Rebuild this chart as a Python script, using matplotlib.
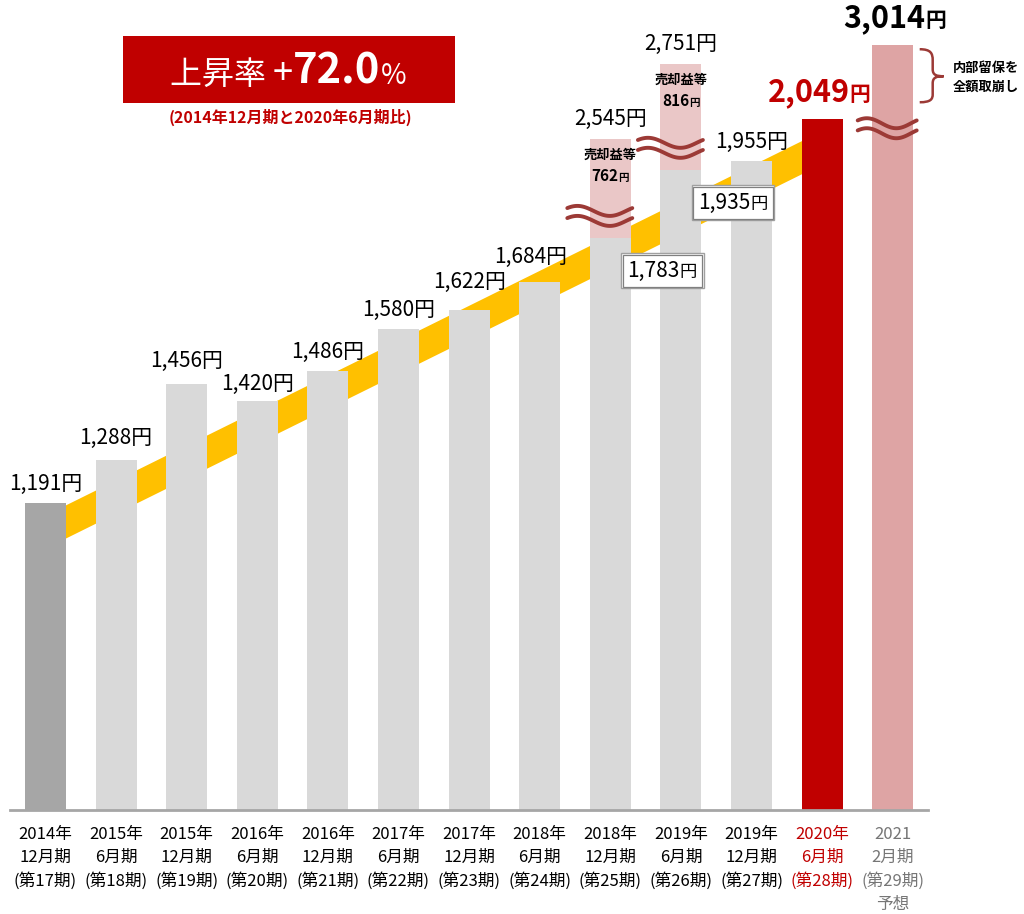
import numpy as np
import matplotlib
matplotlib.use("Agg")
import matplotlib.pyplot as plt
from matplotlib.offsetbox import TextArea, HPacker, AnnotationBbox, PaddedBox
from matplotlib.patches import Rectangle, PathPatch
from matplotlib.path import Path

plt.rcParams['font.family'] = ['Noto Sans CJK JP', 'DejaVu Sans']

# ---------------- data ----------------
periods = ["2014年\n12月期\n(第17期)", "2015年\n6月期\n(第18期)", "2015年\n12月期\n(第19期)",
           "2016年\n6月期\n(第20期)", "2016年\n12月期\n(第21期)", "2017年\n6月期\n(第22期)",
           "2017年\n12月期\n(第23期)", "2018年\n6月期\n(第24期)", "2018年\n12月期\n(第25期)",
           "2019年\n6月期\n(第26期)", "2019年\n12月期\n(第27期)", "2020年\n6月期\n(第28期)",
           "2021\n2月期\n(第29期)\n予想"]
values = [1191, 1288, 1456, 1420, 1486, 1580, 1622, 1684, 1783, 1935, 1955, 2049, 3014]
gain_index = [8, 9]            # bars with 売却益等 on top
gain_values = [762, 816]       # 売却益等 (円)
growth_rate = 72.0             # 上昇率 (%)
actual_index = 11              # 2020年6月期
forecast_index = 12            # 2021年2月期 予想

# ---------------- style ----------------
GRAY_FIRST = '#a6a6a6'
GRAY = '#d9d9d9'
RED = '#c00000'
PINK_FORECAST = '#dea4a4'
PINK_GAIN = '#eac7c7'
YELLOW = '#ffc000'
WAVE = '#9c3a36'
GAIN_SCALE = 0.29       # axis-break compression of the 売却益等 segments
FORECAST_SCALE = 0.17   # axis-break compression of the forecast bar
BAR_W = 0.58
label_dy = [19, 22, 23, 17, 19, 19, 28, 25, 20, 20, 19, 27, 27]   # px above bar top
label_dx = [0, 0, 0, 0, 0, 0, 0, -9, 0, 0, 0, -3, 2]              # px

fig = plt.figure(figsize=(10.24, 9.14), dpi=100)
ax = fig.add_axes([0, 104 / 914, 1, 810 / 914])
Y0 = 506
ax.set_ylim(Y0, Y0 + 810 / 0.448)
ax.set_xlim(-45.5 / 70.6, (1024 - 45.5) / 70.6)
ax.axis('off')
sx = (ax.get_xlim()[1] - ax.get_xlim()[0]) / 1024
sy = (ax.get_ylim()[1] - ax.get_ylim()[0]) / 810

x = np.arange(len(values))
colors = [GRAY_FIRST] + [GRAY] * (len(values) - 1)
colors[actual_index] = RED
colors[forecast_index] = PINK_FORECAST

disp = list(values)
disp[forecast_index] = values[actual_index] + (values[forecast_index] - values[actual_index]) * FORECAST_SCALE
ax.bar(x, disp, width=BAR_W, color=colors, zorder=3)

tops = list(disp)
for i, g in zip(gain_index, gain_values):
    ax.bar(x[i], g * GAIN_SCALE, bottom=values[i], width=BAR_W, color=PINK_GAIN, zorder=3)
    tops[i] = values[i] + g * GAIN_SCALE

# yellow trend band
bx = np.linspace(x[0], x[actual_index], 50)
btop = values[0] + (values[actual_index] - values[0]) * (bx - x[0]) / (x[actual_index] - x[0]) - 26
ax.fill_between(bx, btop - 74, btop, color=YELLOW, lw=0, zorder=2)

# baseline
ax.plot([-0.5, 12.5], [Y0, Y0], color='#a6a6a6', lw=2, clip_on=False, zorder=4)


def mixed(xy, parts, off, zorder=6, xycoords='data', boxed=False, target=None):
    areas = [TextArea(t, textprops=dict(fontsize=s, fontweight=w, color=c)) for t, s, w, c in parts]
    child = HPacker(children=areas, pad=0, sep=0, align='baseline')
    kw = dict(frameon=False, pad=0)
    if boxed:
        child = PaddedBox(child, pad=3.5, draw_frame=True,
                          patch_attrs=dict(facecolor='white', edgecolor='#808080', lw=0.9))
        kw = dict(frameon=True, pad=0.12,
                  bboxprops=dict(boxstyle='square,pad=0.12', fc='white', ec='#a0a0a0', lw=1.0))
    ab = AnnotationBbox(child, xy, xybox=off, xycoords=xycoords, boxcoords='offset pixels',
                        box_alignment=(0.5, 0.5), **kw)
    ab.set_zorder(zorder)
    (target or ax).add_artist(ab)


# value labels
for i, v in enumerate(values):
    off = (label_dx[i], label_dy[i])
    if i in gain_index:
        total = v + gain_values[gain_index.index(i)]
        ax.annotate(f"{total:,}円", (x[i], tops[i]), xytext=off, textcoords='offset pixels',
                    ha='center', va='center', fontsize=15, zorder=6)
    elif i == actual_index:
        mixed((x[i], tops[i]), [(f"{v:,}", 22, 'bold', RED), ("円", 15, 'bold', RED)], off)
    elif i == forecast_index:
        mixed((x[i], tops[i]), [(f"{v:,}", 22, 'bold', 'black'), ("円", 15, 'bold', 'black')], off)
    else:
        ax.annotate(f"{v:,}円", (x[i], tops[i]), xytext=off, textcoords='offset pixels',
                    ha='center', va='center', fontsize=15, zorder=6)

# gain annotations and boxed base values
for i, g in zip(gain_index, gain_values):
    ax.annotate("売却益等", (x[i], tops[i]), xytext=(0, -16), textcoords='offset pixels',
                ha='center', va='center', fontsize=9.5, fontweight='bold', zorder=6)
    mixed((x[i], tops[i]), [(f"{g}", 11, 'bold', 'black'), ("円", 7.5, 'bold', 'black')], (0, -37))
    mixed((x[i], values[i]), [(f"{values[i]:,}", 15, 'normal', 'black'), ("円", 12.5, 'normal', 'black')],
          (52, -33), zorder=8, boxed=True)


# wavy break lines
def wave(xc, ymid, x0, x1):
    t = np.linspace(0, 1, 120)
    xs = xc + (x0 + (x1 - x0) * t) * sx
    for d in (5, -5):
        ys = ymid + (d + 5 * np.sin(2 * np.pi * t + 0.6)) * sy
        ax.plot(xs, ys, color=WAVE, lw=2.8, zorder=5, solid_capstyle='round')


for i in gain_index:
    wave(x[i], values[i] + 22 * sy, -43, 22)
wave(x[forecast_index], tops[forecast_index] - 83 * sy, -35, 24)

# brace next to forecast bar
bxc, byt = x[forecast_index], tops[forecast_index]
pts = [(27, -4), (38, -4), (40, -8), (40, -15), (40, -24), (40, -30), (44, -31), (51, -31),
       (44, -31), (40, -32), (40, -38), (40, -49), (40, -54), (38, -57), (27, -57)]
codes = [Path.MOVETO, Path.CURVE4, Path.CURVE4, Path.CURVE4, Path.LINETO, Path.CURVE4, Path.CURVE4,
         Path.CURVE4, Path.CURVE4, Path.CURVE4, Path.CURVE4, Path.LINETO, Path.CURVE4, Path.CURVE4,
         Path.CURVE4]
verts = [(bxc + px * sx, byt + py * sy) for px, py in pts]
ax.add_patch(PathPatch(Path(verts, codes), fill=False, ec=WAVE, lw=1.8, clip_on=False, zorder=5))
ax.annotate("内部留保を\n全額取崩し", (bxc, byt), xytext=(60, -32), textcoords='offset pixels',
            ha='left', va='center', fontsize=9.5, fontweight='bold', linespacing=1.45, zorder=6)

# tick labels
label_colors = ['black'] * len(values)
label_colors[actual_index] = RED
label_colors[forecast_index] = '#767676'
for i, lab in enumerate(periods):
    ax.annotate(lab, (x[i], Y0), xytext=(0, -16), textcoords='offset pixels', ha='center', va='top',
                fontsize=12, color=label_colors[i], linespacing=1.45, annotation_clip=False)

# headline box
fig.add_artist(Rectangle((123 / 1024, 1 - 103 / 914), 332 / 1024, 67 / 914, transform=fig.transFigure,
                         facecolor=RED, edgecolor='none', zorder=5))
mixed((288 / 1024, 1 - 72 / 914),
      [("上昇率 ", 23, 'normal', 'white'), ("+", 26, 'normal', 'white'),
       (f"{growth_rate:.1f}", 30, 'bold', 'white'), ("%", 20, 'normal', 'white')],
      (0, 0), zorder=7, xycoords='figure fraction', target=fig)
fig.text(290 / 1024, 1 - 117 / 914, "(2014年12月期と2020年6月期比)", ha='center', va='center',
         fontsize=11.5, fontweight='bold', color=RED)

fig.savefig("out.png", dpi=100)
